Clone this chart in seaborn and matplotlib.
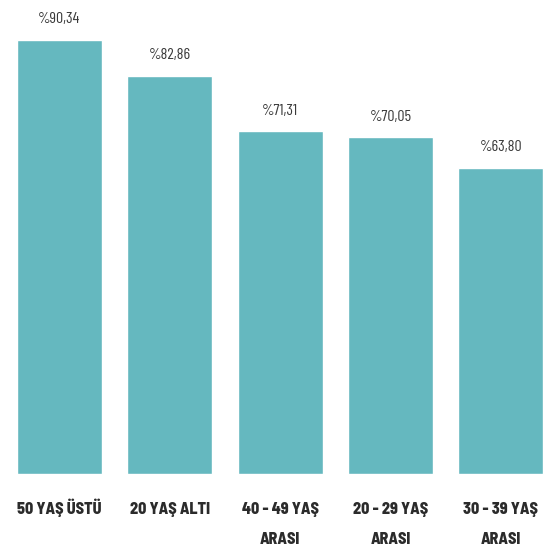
import matplotlib
matplotlib.use("Agg")
import matplotlib.pyplot as plt
import matplotlib.transforms as mtransforms
import seaborn as sns
import pandas as pd

# Age groups and their share (%)
groups = ["50 YAŞ ÜSTÜ", "20 YAŞ ALTI", "40 - 49 YAŞ\nARASI", "20 - 29 YAŞ\nARASI", "30 - 39 YAŞ\nARASI"]
shares = [90.34, 82.86, 71.31, 70.05, 63.80]
value_labels = ["%90,34", "%82,86", "%71,31", "%70,05", "%63,80"]

df = pd.DataFrame({"grup": groups, "oran": shares})

sns.set_theme(style="white")
value_font = ["Barlow Condensed", "DejaVu Sans"]
label_font = ["Barlow Semi Condensed", "DejaVu Sans"]

fig = plt.figure(figsize=(5.45, 5.5), dpi=100)
ax = fig.add_axes([0, 76 / 550, 1, 474 / 550])

sns.barplot(data=df, x="grup", y="oran", color="#65b8bf", saturation=1,
            width=0.77, ax=ax)

ax.set_xlim(-0.539, 4.40)
ax.set_ylim(0, 98.67)

for i, (v, lab) in enumerate(zip(shares, value_labels)):
    ax.annotate(lab, (i, v), xytext=(0, 10), textcoords="offset points",
                ha="center", va="bottom", fontsize=11.5, color="#3a3a3a",
                family=value_font, fontweight=400)

# Category names under the bars, one baseline per line so all rows line up
base = ax.get_xaxis_transform()
for i, name in enumerate(groups):
    for j, line in enumerate(name.split("\n")):
        tr = mtransforms.offset_copy(base, fig=fig, x=0, y=-29 - 21.6 * j,
                                     units="points")
        ax.text(i, 0, line, transform=tr, ha="center", va="baseline",
                family=label_font, fontweight=800, fontsize=11.5,
                color="#2b2b2b", clip_on=False)

ax.set_xlabel("")
ax.set_ylabel("")
ax.set_yticks([])
ax.set_xticks(range(len(groups)))
ax.set_xticklabels([])
ax.tick_params(axis="x", length=0)
sns.despine(ax=ax, left=True, bottom=True)

fig.savefig("out.png", dpi=100)
